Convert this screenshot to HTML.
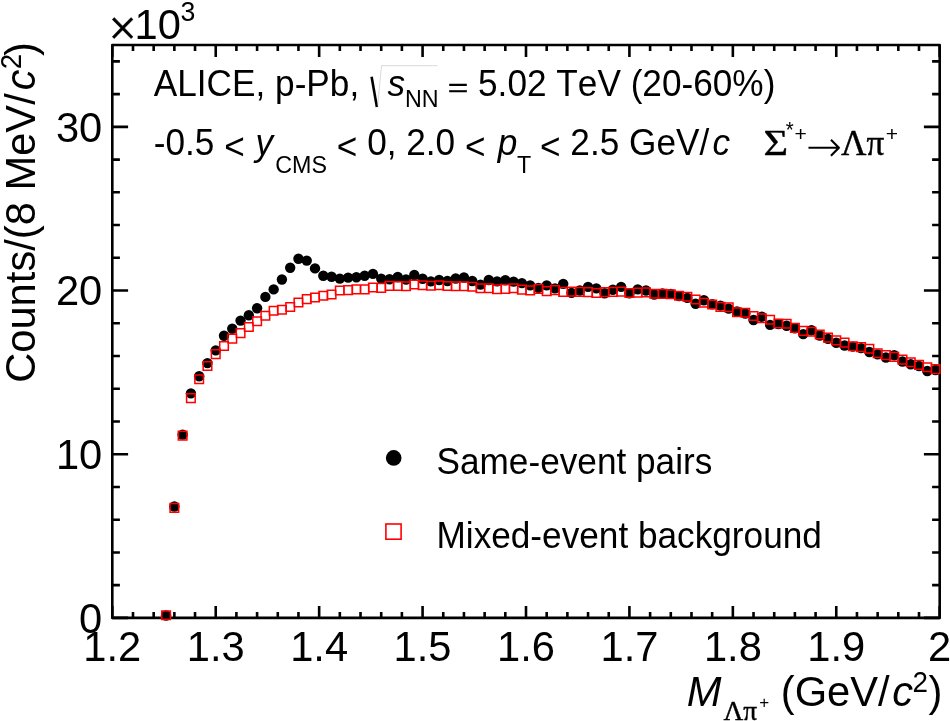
<!DOCTYPE html>
<html lang="en"><head><meta charset="utf-8"><title>ALICE p-Pb invariant mass</title>
<style>html,body{margin:0;padding:0;background:#fff}svg{display:block}text{font-family:"Liberation Sans",sans-serif;fill:#000;font-kerning:none}.sy{font-family:"Liberation Serif",serif}.dl{font-family:"DejaVu Sans",sans-serif;font-weight:200}.it{font-style:italic}</style></head><body>
<svg width="950" height="721" viewBox="0 0 950 721">
<rect width="950" height="721" fill="#fff"/>
<path d="M112.30 617.90v-12.0M112.30 45.00v12.0M132.99 617.90v-6.0M132.99 45.00v6.0M153.67 617.90v-6.0M153.67 45.00v6.0M174.36 617.90v-6.0M174.36 45.00v6.0M195.04 617.90v-6.0M195.04 45.00v6.0M215.73 617.90v-12.0M215.73 45.00v12.0M236.41 617.90v-6.0M236.41 45.00v6.0M257.09 617.90v-6.0M257.09 45.00v6.0M277.78 617.90v-6.0M277.78 45.00v6.0M298.46 617.90v-6.0M298.46 45.00v6.0M319.15 617.90v-12.0M319.15 45.00v12.0M339.83 617.90v-6.0M339.83 45.00v6.0M360.52 617.90v-6.0M360.52 45.00v6.0M381.21 617.90v-6.0M381.21 45.00v6.0M401.89 617.90v-6.0M401.89 45.00v6.0M422.58 617.90v-12.0M422.58 45.00v12.0M443.26 617.90v-6.0M443.26 45.00v6.0M463.95 617.90v-6.0M463.95 45.00v6.0M484.63 617.90v-6.0M484.63 45.00v6.0M505.32 617.90v-6.0M505.32 45.00v6.0M526.00 617.90v-12.0M526.00 45.00v12.0M546.68 617.90v-6.0M546.68 45.00v6.0M567.37 617.90v-6.0M567.37 45.00v6.0M588.05 617.90v-6.0M588.05 45.00v6.0M608.74 617.90v-6.0M608.74 45.00v6.0M629.42 617.90v-12.0M629.42 45.00v12.0M650.11 617.90v-6.0M650.11 45.00v6.0M670.80 617.90v-6.0M670.80 45.00v6.0M691.48 617.90v-6.0M691.48 45.00v6.0M712.16 617.90v-6.0M712.16 45.00v6.0M732.85 617.90v-12.0M732.85 45.00v12.0M753.53 617.90v-6.0M753.53 45.00v6.0M774.22 617.90v-6.0M774.22 45.00v6.0M794.90 617.90v-6.0M794.90 45.00v6.0M815.59 617.90v-6.0M815.59 45.00v6.0M836.27 617.90v-12.0M836.27 45.00v12.0M856.96 617.90v-6.0M856.96 45.00v6.0M877.64 617.90v-6.0M877.64 45.00v6.0M898.33 617.90v-6.0M898.33 45.00v6.0M919.01 617.90v-6.0M919.01 45.00v6.0M939.70 617.90v-12.0M939.70 45.00v12.0M112.30 617.90h15.8M939.70 617.90h-15.8M112.30 585.16h7.6M939.70 585.16h-7.6M112.30 552.43h7.6M939.70 552.43h-7.6M112.30 519.69h7.6M939.70 519.69h-7.6M112.30 486.95h7.6M939.70 486.95h-7.6M112.30 454.21h15.8M939.70 454.21h-15.8M112.30 421.48h7.6M939.70 421.48h-7.6M112.30 388.74h7.6M939.70 388.74h-7.6M112.30 356.00h7.6M939.70 356.00h-7.6M112.30 323.27h7.6M939.70 323.27h-7.6M112.30 290.53h15.8M939.70 290.53h-15.8M112.30 257.79h7.6M939.70 257.79h-7.6M112.30 225.05h7.6M939.70 225.05h-7.6M112.30 192.32h7.6M939.70 192.32h-7.6M112.30 159.58h7.6M939.70 159.58h-7.6M112.30 126.84h15.8M939.70 126.84h-15.8M112.30 94.11h7.6M939.70 94.11h-7.6M112.30 61.37h7.6M939.70 61.37h-7.6" stroke="#000" stroke-width="2.6" fill="none"/>
<rect x="112.3" y="45.0" width="827.40" height="572.90" fill="none" stroke="#000" stroke-width="2.6" stroke-linejoin="round"/>
<g fill="#000"><circle cx="166.08" cy="615.50" r="5.2"/><circle cx="174.36" cy="506.50" r="5.2"/><circle cx="182.63" cy="434.60" r="5.2"/><circle cx="190.90" cy="393.40" r="5.2"/><circle cx="199.18" cy="376.20" r="5.2"/><circle cx="207.45" cy="363.10" r="5.2"/><circle cx="215.73" cy="350.40" r="5.2"/><circle cx="224.00" cy="335.70" r="5.2"/><circle cx="232.27" cy="328.70" r="5.2"/><circle cx="240.55" cy="320.60" r="5.2"/><circle cx="248.82" cy="315.30" r="5.2"/><circle cx="257.10" cy="308.30" r="5.2"/><circle cx="265.37" cy="296.90" r="5.2"/><circle cx="273.64" cy="289.40" r="5.2"/><circle cx="281.92" cy="279.50" r="5.2"/><circle cx="290.19" cy="267.70" r="5.2"/><circle cx="298.46" cy="258.70" r="5.2"/><circle cx="306.74" cy="260.60" r="5.2"/><circle cx="315.01" cy="268.40" r="5.2"/><circle cx="323.29" cy="275.80" r="5.2"/><circle cx="331.56" cy="276.80" r="5.2"/><circle cx="339.83" cy="278.60" r="5.2"/><circle cx="348.11" cy="277.60" r="5.2"/><circle cx="356.38" cy="277.30" r="5.2"/><circle cx="364.66" cy="275.80" r="5.2"/><circle cx="372.93" cy="273.90" r="5.2"/><circle cx="381.21" cy="278.60" r="5.2"/><circle cx="389.48" cy="279.25" r="5.2"/><circle cx="397.75" cy="276.95" r="5.2"/><circle cx="406.03" cy="279.45" r="5.2"/><circle cx="414.30" cy="275.05" r="5.2"/><circle cx="422.58" cy="278.75" r="5.2"/><circle cx="430.85" cy="281.35" r="5.2"/><circle cx="439.12" cy="279.95" r="5.2"/><circle cx="447.40" cy="280.95" r="5.2"/><circle cx="455.67" cy="278.45" r="5.2"/><circle cx="463.95" cy="277.55" r="5.2"/><circle cx="472.22" cy="280.95" r="5.2"/><circle cx="480.49" cy="284.65" r="5.2"/><circle cx="488.77" cy="279.95" r="5.2"/><circle cx="497.04" cy="281.35" r="5.2"/><circle cx="505.32" cy="280.25" r="5.2"/><circle cx="513.59" cy="281.65" r="5.2"/><circle cx="521.86" cy="283.15" r="5.2"/><circle cx="530.14" cy="285.35" r="5.2"/><circle cx="538.41" cy="287.85" r="5.2"/><circle cx="546.69" cy="285.35" r="5.2"/><circle cx="554.96" cy="288.35" r="5.2"/><circle cx="563.23" cy="283.85" r="5.2"/><circle cx="571.51" cy="292.90" r="5.2"/><circle cx="579.78" cy="290.55" r="5.2"/><circle cx="588.06" cy="286.85" r="5.2"/><circle cx="596.33" cy="288.35" r="5.2"/><circle cx="604.60" cy="293.20" r="5.2"/><circle cx="612.88" cy="289.75" r="5.2"/><circle cx="621.15" cy="286.85" r="5.2"/><circle cx="629.42" cy="293.30" r="5.2"/><circle cx="637.70" cy="289.35" r="5.2"/><circle cx="645.97" cy="290.55" r="5.2"/><circle cx="654.25" cy="294.55" r="5.2"/><circle cx="662.52" cy="293.45" r="5.2"/><circle cx="670.80" cy="293.85" r="5.2"/><circle cx="679.07" cy="296.15" r="5.2"/><circle cx="687.34" cy="297.85" r="5.2"/><circle cx="695.62" cy="303.75" r="5.2"/><circle cx="703.89" cy="300.25" r="5.2"/><circle cx="712.17" cy="304.25" r="5.2"/><circle cx="720.44" cy="305.65" r="5.2"/><circle cx="728.71" cy="308.65" r="5.2"/><circle cx="736.99" cy="311.55" r="5.2"/><circle cx="745.26" cy="313.45" r="5.2"/><circle cx="753.54" cy="319.95" r="5.2"/><circle cx="761.81" cy="316.75" r="5.2"/><circle cx="770.08" cy="324.85" r="5.2"/><circle cx="778.36" cy="324.00" r="5.2"/><circle cx="786.63" cy="325.75" r="5.2"/><circle cx="794.90" cy="328.30" r="5.2"/><circle cx="803.18" cy="334.15" r="5.2"/><circle cx="811.45" cy="330.25" r="5.2"/><circle cx="819.73" cy="335.55" r="5.2"/><circle cx="828.00" cy="338.85" r="5.2"/><circle cx="836.27" cy="342.75" r="5.2"/><circle cx="844.55" cy="345.45" r="5.2"/><circle cx="852.82" cy="346.65" r="5.2"/><circle cx="861.10" cy="348.15" r="5.2"/><circle cx="869.37" cy="352.05" r="5.2"/><circle cx="877.64" cy="354.35" r="5.2"/><circle cx="885.92" cy="357.45" r="5.2"/><circle cx="894.19" cy="355.25" r="5.2"/><circle cx="902.47" cy="361.55" r="5.2"/><circle cx="910.74" cy="364.25" r="5.2"/><circle cx="919.01" cy="366.05" r="5.2"/><circle cx="927.29" cy="371.05" r="5.2"/><circle cx="935.56" cy="369.95" r="5.2"/></g>
<path d="M161.78 611.00h8.6v8.6h-8.6zM170.06 503.60h8.6v8.6h-8.6zM178.33 431.30h8.6v8.6h-8.6zM186.60 393.80h8.6v8.6h-8.6zM194.88 375.00h8.6v8.6h-8.6zM203.15 361.70h8.6v8.6h-8.6zM211.43 349.80h8.6v8.6h-8.6zM219.70 341.70h8.6v8.6h-8.6zM227.97 334.30h8.6v8.6h-8.6zM236.25 328.80h8.6v8.6h-8.6zM244.52 322.70h8.6v8.6h-8.6zM252.80 317.00h8.6v8.6h-8.6zM261.07 311.40h8.6v8.6h-8.6zM269.34 306.40h8.6v8.6h-8.6zM277.62 305.40h8.6v8.6h-8.6zM285.89 302.70h8.6v8.6h-8.6zM294.16 298.20h8.6v8.6h-8.6zM302.44 294.80h8.6v8.6h-8.6zM310.71 293.20h8.6v8.6h-8.6zM318.99 291.40h8.6v8.6h-8.6zM327.26 290.20h8.6v8.6h-8.6zM335.53 286.20h8.6v8.6h-8.6zM343.81 285.80h8.6v8.6h-8.6zM352.08 285.10h8.6v8.6h-8.6zM360.36 285.10h8.6v8.6h-8.6zM368.63 283.20h8.6v8.6h-8.6zM376.91 283.60h8.6v8.6h-8.6zM385.18 281.60h8.6v8.6h-8.6zM393.45 281.70h8.6v8.6h-8.6zM401.73 281.90h8.6v8.6h-8.6zM410.00 280.20h8.6v8.6h-8.6zM418.28 280.90h8.6v8.6h-8.6zM426.55 281.40h8.6v8.6h-8.6zM434.82 280.90h8.6v8.6h-8.6zM443.10 281.70h8.6v8.6h-8.6zM451.37 281.90h8.6v8.6h-8.6zM459.65 281.90h8.6v8.6h-8.6zM467.92 282.40h8.6v8.6h-8.6zM476.19 283.90h8.6v8.6h-8.6zM484.47 283.90h8.6v8.6h-8.6zM492.74 284.90h8.6v8.6h-8.6zM501.02 284.60h8.6v8.6h-8.6zM509.29 283.90h8.6v8.6h-8.6zM517.56 285.30h8.6v8.6h-8.6zM525.84 286.10h8.6v8.6h-8.6zM534.11 284.60h8.6v8.6h-8.6zM542.39 286.80h8.6v8.6h-8.6zM550.66 285.80h8.6v8.6h-8.6zM558.93 287.60h8.6v8.6h-8.6zM567.21 287.30h8.6v8.6h-8.6zM575.48 287.60h8.6v8.6h-8.6zM583.76 287.80h8.6v8.6h-8.6zM592.03 288.70h8.6v8.6h-8.6zM600.30 287.80h8.6v8.6h-8.6zM608.58 287.60h8.6v8.6h-8.6zM616.85 287.30h8.6v8.6h-8.6zM625.12 288.70h8.6v8.6h-8.6zM633.40 288.30h8.6v8.6h-8.6zM641.67 288.10h8.6v8.6h-8.6zM649.95 289.50h8.6v8.6h-8.6zM658.22 289.60h8.6v8.6h-8.6zM666.50 289.90h8.6v8.6h-8.6zM674.77 291.40h8.6v8.6h-8.6zM683.04 292.50h8.6v8.6h-8.6zM691.32 295.20h8.6v8.6h-8.6zM699.59 298.40h8.6v8.6h-8.6zM707.87 300.20h8.6v8.6h-8.6zM716.14 302.60h8.6v8.6h-8.6zM724.41 302.90h8.6v8.6h-8.6zM732.69 308.00h8.6v8.6h-8.6zM740.96 308.50h8.6v8.6h-8.6zM749.24 311.70h8.6v8.6h-8.6zM757.51 313.90h8.6v8.6h-8.6zM765.78 315.40h8.6v8.6h-8.6zM774.06 319.20h8.6v8.6h-8.6zM782.33 319.50h8.6v8.6h-8.6zM790.60 323.60h8.6v8.6h-8.6zM798.88 326.60h8.6v8.6h-8.6zM807.15 327.50h8.6v8.6h-8.6zM815.43 330.20h8.6v8.6h-8.6zM823.70 333.30h8.6v8.6h-8.6zM831.98 336.10h8.6v8.6h-8.6zM840.25 338.30h8.6v8.6h-8.6zM848.52 341.90h8.6v8.6h-8.6zM856.80 342.80h8.6v8.6h-8.6zM865.07 344.50h8.6v8.6h-8.6zM873.35 349.00h8.6v8.6h-8.6zM881.62 350.80h8.6v8.6h-8.6zM889.89 352.60h8.6v8.6h-8.6zM898.17 355.30h8.6v8.6h-8.6zM906.44 358.00h8.6v8.6h-8.6zM914.72 360.60h8.6v8.6h-8.6zM922.99 363.00h8.6v8.6h-8.6zM931.26 364.80h8.6v8.6h-8.6z" stroke="#f00" stroke-width="1.5" fill="none"/>
<text transform="translate(112.30,660.50) scale(1,1.035)" font-size="41.7" text-anchor="middle">1.2</text>
<text transform="translate(215.73,660.50) scale(1,1.035)" font-size="41.7" text-anchor="middle">1.3</text>
<text transform="translate(319.15,660.50) scale(1,1.035)" font-size="41.7" text-anchor="middle">1.4</text>
<text transform="translate(422.58,660.50) scale(1,1.035)" font-size="41.7" text-anchor="middle">1.5</text>
<text transform="translate(526.00,660.50) scale(1,1.035)" font-size="41.7" text-anchor="middle">1.6</text>
<text transform="translate(629.42,660.50) scale(1,1.035)" font-size="41.7" text-anchor="middle">1.7</text>
<text transform="translate(732.85,660.50) scale(1,1.035)" font-size="41.7" text-anchor="middle">1.8</text>
<text transform="translate(836.27,660.50) scale(1,1.035)" font-size="41.7" text-anchor="middle">1.9</text>
<text transform="translate(939.70,660.50) scale(1,1.035)" font-size="41.7" text-anchor="middle">2</text>
<text transform="translate(102.30,632.70) scale(1,1.035)" font-size="41.7" text-anchor="end">0</text>
<text transform="translate(102.30,469.01) scale(1,1.035)" font-size="41.7" text-anchor="end">10</text>
<text transform="translate(102.30,305.33) scale(1,1.035)" font-size="41.7" text-anchor="end">20</text>
<text transform="translate(102.30,141.64) scale(1,1.035)" font-size="41.7" text-anchor="end">30</text>
<text transform="translate(108.60,44.80) scale(1,1.0)" font-size="50" class="sy" stroke="#000" stroke-width="0.6">×</text>
<text transform="translate(134.50,39.40) scale(1,1.035)" font-size="41.7">10</text>
<text transform="translate(180.50,20.60) scale(1,1.035)" font-size="26.7">3</text>
<g transform="translate(35.4,42.1) rotate(-90)">
<text transform="scale(1,1.035)" font-size="41.7" text-anchor="end">Counts/(8 MeV/<tspan class="it" dx="2.95">c</tspan><tspan font-size="27.8" dy="-14.2" dx="0.25">2</tspan><tspan dy="14.2" dx="-2.25">)</tspan></text>
</g>
<text transform="translate(686.80,706.10) scale(1,1.035)" font-size="41.7" class="it">M</text>
<text transform="translate(723.40,719.50) scale(1,1.0)" font-size="27.4" class="sy" stroke="#000" stroke-width="0.4">Λπ</text>
<text transform="translate(759.20,707.60) scale(1,1.0)" font-size="17">+</text>
<text transform="translate(780.80,706.10) scale(1,1.035)" font-size="41.7">(GeV/</text>
<text transform="translate(892.30,706.10) scale(1,1.035)" font-size="41.7" class="it">c</text>
<text transform="translate(912.60,692.00) scale(1,1.035)" font-size="27.8">2</text>
<text transform="translate(928.40,706.10) scale(1,1.035)" font-size="41.7">)</text>
<text transform="translate(153.80,95.60) scale(1,1.035)" font-size="35.2">ALICE, p-Pb,</text>
<path d="M371.6 76.7L376.9 107.0" stroke="#000" stroke-width="2.6" fill="none"/>
<path d="M377.6 106L381.5 65.7H437.7" stroke="#aaa" stroke-width="0.45" fill="none"/>
<text transform="translate(387.50,95.60) scale(1,1.035)" font-size="35.2" class="it">s</text>
<text transform="translate(405.00,107.40) scale(1,1.035)" font-size="23.3">NN</text>
<text transform="translate(447.70,96.10) scale(1,0.74)" font-size="35.2" stroke="#000" stroke-width="0.5">=</text>
<text transform="translate(478.04,95.60) scale(1,1.035)" font-size="35.2">5.02 TeV (20-60%)</text>
<text transform="translate(153.80,155.40) scale(1,1.035)" font-size="35.2">-0.5 <tspan dy="3.3">&lt;</tspan></text>
<text transform="translate(255.40,155.40) scale(1,1.035)" font-size="35.2" class="it">y</text>
<text transform="translate(275.30,172.60) scale(1,1.035)" font-size="23.3">CMS</text>
<text transform="translate(336.80,155.40) scale(1,1.035)" font-size="35.2"><tspan dy="3.3">&lt;</tspan><tspan dy="-3.3"> 0, 2.0 </tspan><tspan dy="3.3">&lt;</tspan></text>
<text transform="translate(497.80,155.40) scale(1,1.035)" font-size="35.2" class="it">p</text>
<text transform="translate(517.00,173.00) scale(1,1.035)" font-size="23.3">T</text>
<text transform="translate(540.00,155.40) scale(1,1.035)" font-size="35.2"><tspan dy="3.3">&lt;</tspan><tspan dy="-3.3"> 2.5 GeV/</tspan></text>
<text transform="translate(712.50,155.40) scale(1,1.035)" font-size="35.2" class="it">c</text>
<text transform="translate(763.60,155.40) scale(1.2,1.0)" font-size="35.2" class="sy" stroke="#000" stroke-width="0.4">Σ</text>
<text transform="translate(785.80,137.00) scale(1,1.035)" font-size="20.5">*</text>
<text transform="translate(794.50,140.50) scale(1,1.0)" font-size="21">+</text>
<text transform="translate(805.90,160.50) scale(1,1.0)" font-size="43" class="dl">→</text>
<text transform="translate(841.00,155.40) scale(1,1.0)" font-size="35.2" class="sy" stroke="#000" stroke-width="0.4">Λπ</text>
<text transform="translate(885.80,141.00) scale(1,1.0)" font-size="21">+</text>
<circle cx="393.7" cy="457.9" r="7.8" fill="#000"/>
<rect x="385.9" y="524.0" width="15.2" height="15.2" fill="none" stroke="#f00" stroke-width="1.6"/>
<text transform="translate(436.50,474.40) scale(1,1.035)" font-size="35.2">Same-event pairs</text>
<text transform="translate(436.50,547.80) scale(1,1.035)" font-size="35.2">Mixed-event background</text>
</svg></body></html>
